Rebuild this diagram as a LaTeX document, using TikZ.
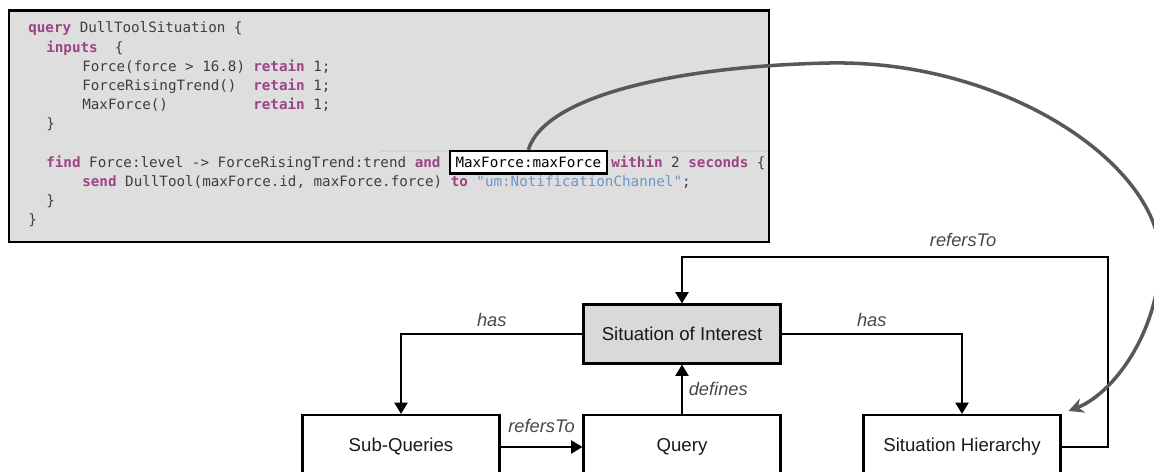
\documentclass[tikz,border=0pt]{standalone}
\usepackage{fontspec}
\setmainfont{Liberation Sans}
\newfontfamily\codefont{DejaVu Sans Mono}
\usepackage{tikz}
\usetikzlibrary{arrows.meta,positioning,calc}
\definecolor{codebg}{RGB}{222,222,222}
\definecolor{codetxt}{RGB}{62,62,62}
\definecolor{kwcol}{RGB}{155,68,134}
\definecolor{strcol}{RGB}{108,150,196}
\definecolor{boxgray}{RGB}{217,217,217}
\definecolor{curvecol}{RGB}{88,88,88}
\newcommand{\kw}[1]{\textcolor{kwcol}{\bfseries #1}}

\begin{document}
\begin{tikzpicture}[x=0.02cm,y=-0.02cm,
	code/.style={font={\codefont\fontsize{8.1}{9}\selectfont}, text=codetxt, inner sep=0pt, anchor=base west},
	mfbox/.style={draw, fill=white, line width=1.3pt, inner xsep=3.2pt, inner ysep=3.4pt, font={\codefont\fontsize{8.1}{9}\selectfont}, text=black, anchor=base west},
	entity/.style={draw, line width=1.2pt, minimum width=3.94cm, minimum height=1.18cm, font=\fontsize{10.6}{12}\selectfont, text=black!90},
	lowbox/.style={entity, minimum height=1.28cm},
	rel/.style={line width=1.1pt, -{Triangle[length=6.5pt,width=7.5pt]}},
	lbl/.style={font=\itshape\fontsize{10.4}{12}\selectfont, text=black!72}]
	\useasboundingbox (0,0) rectangle (1154,472);
	\clip (0,0) rectangle (1154,472);
	% code listing
	\draw[line width=1.7pt, fill=codebg] (9,11) rectangle (769,242);
	\draw[black!17, line width=0.6pt] (380,151) -- (768,151);
	\node[code] (l1) at (28,33) {\kw{query} DullToolSituation \{};
	\node[code] (l2) at (46,52.2) {\kw{inputs}\ \ \{};
	\node[code] (l3) at (82,71.4) {Force(force > 16.8)};
	\node[code] (l4) at (82,90.6) {ForceRisingTrend()};
	\node[code] (l5) at (82,109.8) {MaxForce()};
	\foreach \i/\y in {1/71.4,2/90.6,3/109.8} \node[code] (r\i) at (253,\y) {\kw{retain} 1;};
	\node[code] (l6) at (46,129) {\}};
	\node[code] (l7) at (46,167.4) {\kw{find} Force:level -> ForceRisingTrend:trend \kw{and}};
	\node[mfbox] (mf) at ([xshift=4.5pt]l7.base east) {MaxForce:maxForce};
	\node[code] (l7b) at ([xshift=1.7pt]mf.base east) {\kw{within} 2 \kw{seconds} \{};
	\node[code] (l8) at (82,186.6) {\kw{send} DullTool(maxForce.id, maxForce.force) \kw{to} \textcolor{strcol}{"um:NotificationChannel"};};
	\node[code] (l9) at (46,205.8) {\}};
	\node[code] (l10) at (28,225) {\}};
	% model
	\node[entity, fill=boxgray] (soi) at (682,334) {Situation of Interest};
	\node[lowbox] (query) at (682,447) {Query};
	\node[lowbox] (subq) at (401,447) {Sub-Queries};
	\node[lowbox] (sith) at (962,447) {Situation Hierarchy};
	\coordinate (back) at (1108,257);
	\draw[rel] (soi.west) -| node[lbl, pos=0.25, above] {has} (subq.north);
	\draw[rel] (soi.east) -| node[lbl, pos=0.25, above] {has} (sith.north);
	\draw[rel] (query.north) -- node[lbl, right] {defines} (soi.south);
	\draw[rel] (subq.east) -- node[lbl, above=4pt] {refersTo} (query.west);
	\draw[rel] (sith.east) -| (back) -- node[lbl, pos=0.34, above=2pt] {refersTo} (soi.north |- back) -- (soi.north);
	\draw[curvecol, line width=2pt, -{Stealth[length=8.5pt,width=8.5pt]}] (mf.north) .. controls (545,95) and (680,66) .. (830,63) .. controls (1010,60) and (1168,170) .. (1160,265) .. controls (1155,340) and (1110,395) .. ([shift={(7,-3)}]sith.north east);
\end{tikzpicture}
\end{document}
